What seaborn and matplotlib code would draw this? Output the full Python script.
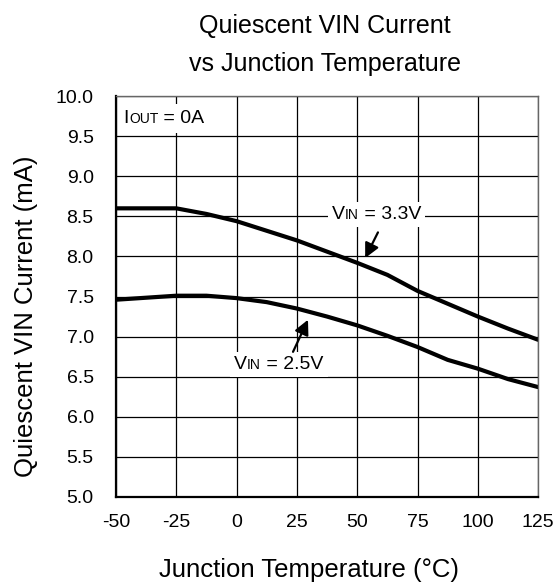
import matplotlib
matplotlib.use('Agg')
import matplotlib.pyplot as plt
from matplotlib.offsetbox import TextArea, HPacker, AnnotationBbox
import seaborn as sns
import pandas as pd

# data
temps = [-50, -25, -12.5, 0, 12.5, 25, 37.5, 50, 62.5, 75, 87.5, 100, 112.5, 125]
vin_33 = [8.6, 8.6, 8.53, 8.44, 8.32, 8.2, 8.06, 7.92, 7.77, 7.57, 7.41, 7.25, 7.1, 6.96]
vin_25 = [7.46, 7.51, 7.51, 7.48, 7.43, 7.35, 7.25, 7.14, 7.01, 6.87, 6.71, 6.6, 6.47, 6.37]
x_ticks = [-50, -25, 0, 25, 50, 75, 100, 125]
y_ticks = [5.0, 5.5, 6.0, 6.5, 7.0, 7.5, 8.0, 8.5, 9.0, 9.5, 10.0]

df = pd.DataFrame({
    'temp': temps * 2,
    'current': vin_33 + vin_25,
    'series': ['3.3V'] * len(temps) + ['2.5V'] * len(temps),
})

sns.set_style('white')
plt.rcParams['font.family'] = ['Liberation Sans', 'DejaVu Sans']
plt.rcParams['axes.unicode_minus'] = False
for k in ['text.color', 'axes.labelcolor', 'xtick.color', 'ytick.color']:
    plt.rcParams[k] = 'black'

fig = plt.figure(figsize=(5.6, 5.86), dpi=100)
ax = fig.add_axes([0.207, 0.152, 0.754, 0.684])

sns.lineplot(data=df, x='temp', y='current', units='series', estimator=None,
             color='black', linewidth=3.0, ax=ax, legend=False)

ax.set_xlim(-50, 125)
ax.set_ylim(5.0, 10.0)
ax.set_xticks(x_ticks)
ax.set_yticks(y_ticks)
ax.set_yticklabels([f'{v:.1f}' for v in y_ticks])
ax.tick_params(axis='x', length=0, pad=12, labelsize=14)
ax.tick_params(axis='y', length=0, pad=16, labelsize=14)
ax.grid(True, color='black', linewidth=0.9)
ax.set_axisbelow(True)
for s in ax.spines.values():
    s.set_color('#666666')
    s.set_linewidth(1.0)
ax.spines['left'].set_color('black')
ax.spines['bottom'].set_color('black')
ax.spines['left'].set_linewidth(1.6)
ax.spines['bottom'].set_linewidth(1.6)
ax.set_xlabel('')
ax.set_ylabel('')

# axis labels and title placed as in the reference
fig.text(0.551, 0.027, 'Junction Temperature (°C)', ha='center', va='center', fontsize=18.5)
fig.text(0.046, 0.461, 'Quiescent VIN Current (mA)', ha='center', va='center',
         rotation=90, fontsize=18.5)
fig.text(0.580, 0.956, 'Quiescent VIN Current', ha='center', va='center', fontsize=18)
fig.text(0.580, 0.891, 'vs Junction Temperature', ha='center', va='center', fontsize=18)


def small_caps_label(parts, xy, box_pad=0.3):
    boxes = [TextArea(t, textprops=dict(fontsize=fs, color='black')) for t, fs in parts]
    pack = HPacker(children=boxes, align='baseline', pad=0, sep=0)
    ab = AnnotationBbox(pack, xy, xycoords='data', frameon=True, box_alignment=(0.5, 0.5),
                        pad=box_pad, bboxprops=dict(facecolor='white', edgecolor='none'))
    ax.add_artist(ab)


small_caps_label([('V', 14), ('IN', 10), (' = 3.3V', 14)], (58, 8.52))
small_caps_label([('V', 14), ('IN', 10), (' = 2.5V', 14)], (17.5, 6.65))
small_caps_label([('I', 14), ('OUT', 10), (' = 0A', 14)], (-30, 9.72), box_pad=0.4)

arrow = dict(arrowstyle='-|>', color='black', lw=1.6, mutation_scale=22, shrinkA=0, shrinkB=0)
ax.annotate('', xy=(53.3, 7.98), xytext=(58.6, 8.30), arrowprops=arrow)
ax.annotate('', xy=(29.6, 7.21), xytext=(23.4, 6.81), arrowprops=arrow)

fig.savefig('out.png', dpi=100)
